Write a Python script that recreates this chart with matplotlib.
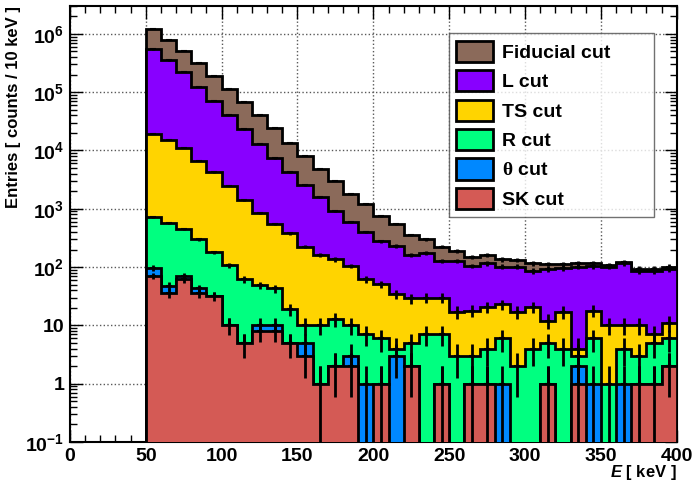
import numpy as np
import matplotlib
matplotlib.use('Agg')
import matplotlib.pyplot as plt
from matplotlib.ticker import FixedLocator, LogLocator, MultipleLocator, NullFormatter

plt.rcParams['font.family'] = ['Liberation Sans', 'DejaVu Sans']
plt.rcParams['font.weight'] = 'bold'
plt.rcParams['mathtext.fontset'] = 'custom'
plt.rcParams['mathtext.rm'] = 'Liberation Serif'
plt.rcParams['mathtext.it'] = 'Liberation Sans:bold:italic'
plt.rcParams['mathtext.bf'] = 'Liberation Sans:bold'

# 10 keV bins from 50 to 400 keV
edges = np.arange(50, 401, 10)

fiducial = [1.23e6, 8.0e5, 5.1e5, 3.2e5, 1.9e5, 1.13e5, 6.7e4, 4.0e4,
            2.4e4, 1.37e4, 8.2e3, 4.8e3, 3.0e3, 1.8e3, 1.19e3,
            740, 550, 355, 300, 224, 191, 150, 160, 136, 133,
            116, 114, 113, 116, 116, 107, 120, 93, 93, 102]
l_cut = [5.4e5, 3.5e5, 2.2e5, 1.23e5, 7.1e4, 4.1e4, 2.3e4, 1.28e4,
         7.3e3, 4.2e3, 2.55e3, 1.57e3, 925, 600, 404,
         280, 232, 161, 177, 129, 127, 105, 116, 102, 102,
         87, 93, 96, 102, 104, 102, 116, 86, 86, 93]
ts_cut = [1.9e4, 1.5e4, 1.12e4, 6.7e3, 4.2e3, 2.5e3, 1.41e3, 855,
          547, 380, 224, 161, 136, 105, 62,
          51, 34, 29, 30, 30, 17, 18, 21, 23, 17,
          21, 12, 17, 4, 18, 10, 10, 10, 7, 11]
r_cut = [720, 570, 455, 303, 179, 107, 62, 49,
         43, 19, 10, 10, 13, 10, 7,
         6, 4, 5, 7, 7, 3, 3, 4, 6, 2,
         4, 5, 4, 3, 6, 1, 4, 3, 5, 6]
theta_cut = [97, 48, 71, 43, 32, 10, 5, 10,
             10, 5, 5, 1, 2, 3, 1,
             1, 3, 2, 0, 1, 0, 1, 1, 1, 0,
             0, 1, 0, 2, 1, 0, 1, 1, 1, 2]
sk_cut = [71, 36, 62, 36, 32, 10, 5, 8,
          8, 5, 3, 1, 2, 2, 0,
          1, 0, 2, 0, 1, 0, 1, 1, 0, 0,
          0, 1, 0, 1, 0, 0, 0, 1, 1, 2]

labels = ['Fiducial cut', 'L cut', 'TS cut', 'R cut', r'$\mathrm{\theta}$ cut', 'SK cut']
colors = ['#8b6a5a', '#8800ff', '#ffd400', '#00ff80', '#0088ff', '#d45a55']
series = [fiducial, l_cut, ts_cut, r_cut, theta_cut, sk_cut]

fig = plt.figure(figsize=(6.92, 4.86), dpi=100)
ax = fig.add_axes([0.101, 0.0905, 0.877, 0.897])

floor = 1e-3
centers = 0.5 * (edges[:-1] + edges[1:])
handles = []
for i, (vals, col, lab) in enumerate(zip(series, colors, labels)):
    v = np.array(vals, dtype=float)
    shown = np.where(v > 0, v, floor)
    h = ax.stairs(shown, edges, baseline=floor, fill=True, facecolor=col,
                  edgecolor='black', linewidth=2, zorder=2 + i, label=lab)
    handles.append(h)
    m = v > 0
    err = np.sqrt(v[m])
    lo = np.maximum(v[m] - err, floor)
    ax.errorbar(centers[m], v[m], yerr=[v[m] - lo, err], fmt='none',
                ecolor='black', elinewidth=2, capsize=0, zorder=2 + i)
    ax.plot(centers[m], v[m], ls='none', marker='_', ms=5, mew=1.5,
            color='black', zorder=2 + i)

ax.set_yscale('log')
ax.set_xlim(0, 400)
ax.set_ylim(0.1, 3e6)

ax.xaxis.set_major_locator(MultipleLocator(50))
ax.xaxis.set_minor_locator(MultipleLocator(10))
ax.yaxis.set_major_locator(FixedLocator([1e-1, 1, 10, 1e2, 1e3, 1e4, 1e5, 1e6]))
ax.yaxis.set_minor_locator(LogLocator(base=10, subs=np.arange(2, 10), numticks=20))
ax.yaxis.set_minor_formatter(NullFormatter())
ax.set_yticklabels([r'$\mathbf{10^{-1}}$', '1', '10', r'$\mathbf{10^{2}}$',
                    r'$\mathbf{10^{3}}$', r'$\mathbf{10^{4}}$',
                    r'$\mathbf{10^{5}}$', r'$\mathbf{10^{6}}$'])

ax.tick_params(which='both', direction='in', top=True, right=True,
               labelsize=14, width=1, pad=4)
ax.tick_params(which='major', length=9)
ax.tick_params(which='minor', length=5)
for s in ax.spines.values():
    s.set_linewidth(1.5)

ax.grid(True, which='major', linestyle=':', color='0.35', linewidth=1)
ax.set_axisbelow(True)

ax.set_xlabel(r'$E$ [ keV ]', loc='right', fontsize=12, fontweight='bold', labelpad=-1)
ax.set_ylabel('Entries [ counts / 10 keV ]', loc='top', fontsize=12,
              fontweight='bold', labelpad=3)

leg = ax.legend(handles=handles, loc='upper left',
                bbox_to_anchor=(0.624, 0.5, 0.338, 0.438), mode='expand',
                borderaxespad=0, fontsize=14, frameon=True, fancybox=False,
                edgecolor='0.3', handlelength=1.9, handleheight=1.3,
                labelspacing=0.42, borderpad=0.4, handletextpad=0.45)
leg.get_frame().set_linewidth(1)
leg.set_zorder(20)

fig.savefig('out.png', dpi=100)
